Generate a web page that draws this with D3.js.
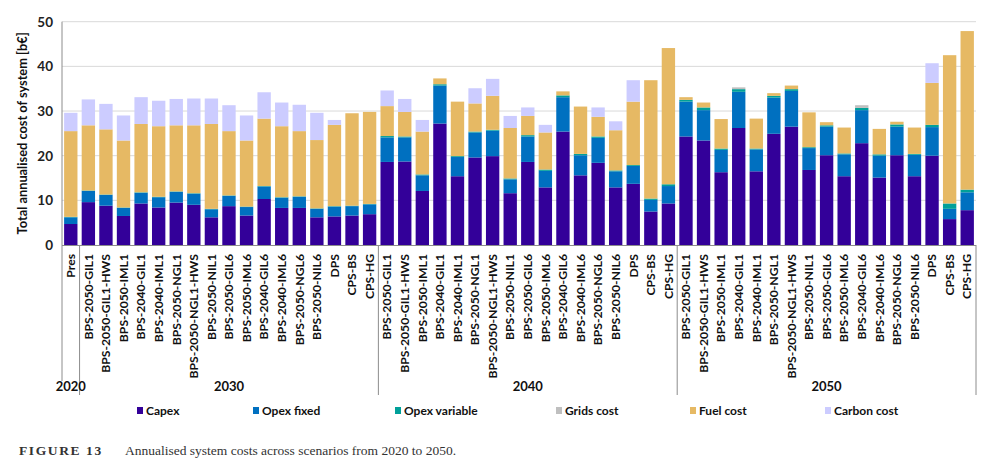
<!DOCTYPE html>
<html><head><meta charset="utf-8">
<script src="https://cdn.jsdelivr.net/npm/d3@7"></script>
<style>
body{margin:0;background:#fff;}
svg{display:block;}
</style></head>
<body><svg id="c" width="1000" height="474"></svg>
<script>
const scenarios = ["BPS-2050-GIL1","BPS-2050-GIL1-HWS","BPS-2050-IML1","BPS-2040-GIL1","BPS-2040-IML1","BPS-2050-NGL1","BPS-2050-NGL1-HWS","BPS-2050-NIL1","BPS-2050-GIL6","BPS-2050-IML6","BPS-2040-GIL6","BPS-2040-IML6","BPS-2050-NGL6","BPS-2050-NIL6","DPS","CPS-BS","CPS-HG"];
const years = ["2020","2030","2040","2050"];
const categories = ["Pres"].concat(scenarios, scenarios, scenarios);
const groupOf = ["2020"].concat(scenarios.map(()=>"2030"), scenarios.map(()=>"2040"), scenarios.map(()=>"2050"));

const capex = [4.7, 9.6,8.8,6.5,9.3,8.4,9.5,9.0,6.2,8.7,6.6,10.3,8.3,8.3,6.2,6.4,6.6,6.9,
  18.6,18.7,12.1,27.2,15.4,19.6,19.9,11.6,18.6,12.9,25.4,15.6,18.4,12.9,13.7,7.5,9.3,
  24.3,23.4,16.3,26.2,16.5,24.9,26.5,16.8,20.1,15.4,22.8,15.1,20.1,15.4,20.0,5.8,7.8];
const opexFixed = [1.5, 2.5,2.4,1.8,2.4,2.3,2.4,2.5,1.8,2.3,1.9,2.8,2.3,2.5,1.9,2.2,2.1,2.2,
  5.5,5.4,3.5,8.5,4.3,5.6,5.7,3.1,5.7,3.7,7.7,4.5,5.6,3.6,4.0,2.6,3.9,
  7.8,6.8,5.0,8.1,4.9,8.1,8.0,4.9,6.4,4.9,7.4,4.9,6.4,4.8,6.4,2.3,4.0];
const opexVariable = [0.1, 0.1,0.1,0.1,0.1,0.1,0.1,0.1,0.1,0.1,0.1,0.1,0.1,0.1,0.1,0.1,0.1,0.1,
  0.3,0.2,0.2,0.3,0.2,0.2,0.2,0.2,0.3,0.3,0.4,0.3,0.3,0.2,0.2,0.3,0.4,
  0.4,0.6,0.3,0.6,0.2,0.4,0.4,0.2,0.3,0.2,0.5,0.3,0.5,0.2,0.5,1.2,0.6];
const gridsCost = [0, 0,0,0,0,0,0,0,0,0,0,0,0,0,0,0,0,0,
  0,0,0,0,0,0,0,0,0,0,0,0,0,0,0,0,0,
  0,0,0,0.4,0,0,0,0,0,0,0.6,0,0,0,0,0,0];
const fuelCost = [19.2, 14.6,14.6,15.0,15.3,15.8,14.8,15.2,19.0,14.4,14.8,15.1,15.9,14.6,15.3,18.2,20.7,20.6,
  6.7,5.5,9.6,1.3,12.2,6.3,7.6,11.3,4.3,8.3,0.9,10.6,4.4,9.0,14.2,26.5,30.5,
  0.6,1.1,6.6,0,6.7,0.6,0.8,7.8,0.7,5.8,0,5.7,0.6,5.9,9.4,33.2,35.5];
const carbonCost = [4.1, 5.8,5.7,5.6,6.0,5.7,5.9,6.0,5.7,5.8,5.6,5.9,5.3,5.9,6.1,1.1,0,0,
  3.5,2.9,2.6,0,0,3.4,3.8,2.7,1.9,1.7,0,0,2.1,2.0,4.8,0,0,
  0,0,0,0,0,0,0,0,0,0,0,0,0,0,4.4,0,0];
const seriesNames = ["Capex","Opex fixed","Opex variable","Grids cost","Fuel cost","Carbon cost"];
const seriesValues = [capex, opexFixed, opexVariable, gridsCost, fuelCost, carbonCost];
const colors = ["#330099","#0070C0","#00A099","#BFBFBF","#E6B964","#CCCCFF"];
const yTicks = [0,10,20,30,40,50];

(function(){
const rows = categories.map((c,i)=>{
  const r = {key:i, cat:c, group:groupOf[i]};
  seriesNames.forEach((s,j)=>r[s]=seriesValues[j][i]);
  return r;
});

const svg = d3.select("#c");
const pL=62, pR=976, pT=21.7, pB=245;
const FONT = "Lato, 'Open Sans', sans-serif";
const x = d3.scaleBand().domain(rows.map(r=>r.key)).range([pL,pR]).paddingInner(0.24).paddingOuter(0.12);
const y = d3.scaleLinear().domain([0,50]).range([pB,pT]);

// gridlines
svg.append("g").selectAll("line").data(yTicks.filter(t=>t>0)).join("line")
  .attr("x1",pL).attr("x2",pR).attr("y1",d=>y(d)).attr("y2",d=>y(d))
  .attr("stroke","#d9d9d9").attr("stroke-width",1);

// bars
const stack = d3.stack().keys(seriesNames);
const layers = stack(rows);
svg.append("g").selectAll("g").data(layers).join("g")
  .attr("fill",(d,i)=>colors[i])
  .selectAll("rect").data(d=>d).join("rect")
  .attr("x",d=>x(d.data.key)).attr("width",x.bandwidth())
  .attr("y",d=>y(d[1])).attr("height",d=>Math.max(0,y(d[0])-y(d[1])));

// y axis
const yAxis = d3.axisLeft(y).tickValues(yTicks).tickSize(0).tickPadding(9);
const ya = svg.append("g").attr("transform",`translate(${pL},0)`).call(yAxis);
ya.select(".domain").remove();
ya.selectAll("text").attr("font-family",FONT).attr("font-weight","bold").attr("font-size","13.5px").attr("fill","#222");
svg.append("line").attr("x1",pL).attr("x2",pL).attr("y1",pT).attr("y2",381).attr("stroke","#8c8c8c");

// x axis
const xAxis = d3.axisBottom(x).tickSize(0).tickPadding(0).tickFormat(k=>categories[k]);
const xa = svg.append("g").attr("transform",`translate(0,${pB})`).call(xAxis);
xa.select(".domain").attr("stroke","#8c8c8c").attr("d",`M${pL},0.5H${pR}`);
xa.selectAll("text")
  .attr("font-family",FONT).attr("font-weight","bold").attr("font-size","12.2px").attr("fill","#111")
  .attr("transform","rotate(-90)").attr("text-anchor","end").attr("x",-9).attr("y",0).attr("dy","0.35em");

// group separators and year labels
const step = x.step();
const bounds = [];
years.forEach(yr=>{
  const idx = rows.filter(r=>r.group===yr).map(r=>r.key);
  const x0 = x(idx[0]) - x.paddingInner()*step/2;
  const x1 = x(idx[idx.length-1]) + x.bandwidth() + x.paddingInner()*step/2;
  bounds.push([Math.max(pL,x0), Math.min(pR,x1), yr]);
});
bounds.slice(1).forEach(b=>{
  svg.append("line").attr("x1",b[0]).attr("x2",b[0]).attr("y1",pB).attr("y2",395).attr("stroke","#8c8c8c");
});
svg.append("line").attr("x1",pR).attr("x2",pR).attr("y1",pB).attr("y2",395).attr("stroke","#8c8c8c");
svg.append("g").selectAll("text").data(bounds).join("text")
  .attr("x",d=>(d[0]+d[1])/2).attr("y",391)
  .attr("text-anchor","middle").attr("font-family",FONT).attr("font-weight","bold").attr("font-size","13px").attr("fill","#111")
  .text(d=>d[2]);

// y title
svg.append("text").attr("transform",`translate(27,${(pT+pB)/2}) rotate(-90)`)
  .attr("text-anchor","middle").attr("font-family",FONT).attr("font-weight","bold").attr("font-size","12.8px").attr("fill","#111")
  .text("Total annualised cost of system [b€]");

// legend
const legendX = [137,253,395,556,690,825];
const lg = svg.append("g").selectAll("g").data(seriesNames).join("g")
  .attr("transform",(d,i)=>`translate(${legendX[i]},411)`);
lg.append("rect").attr("x",0).attr("y",-4).attr("width",6).attr("height",7).attr("fill",(d,i)=>colors[i]);
lg.append("text").attr("x",9).attr("y",0).attr("dy","0.35em").attr("font-family",FONT).attr("font-weight","bold").attr("font-size","12px").attr("fill","#111").text(d=>d);

// caption
svg.append("text").attr("x",19).attr("y",455).attr("font-family","'Liberation Serif', serif").attr("font-weight","bold").attr("font-size","13.5px").attr("letter-spacing","1.6px").attr("fill","#333").text("FIGURE 13");
svg.append("text").attr("x",125).attr("y",455).attr("font-family","'Liberation Serif', serif").attr("font-size","13.5px").attr("fill","#333").text("Annualised system costs across scenarios from 2020 to 2050.");
})();
</script>
</body></html>
